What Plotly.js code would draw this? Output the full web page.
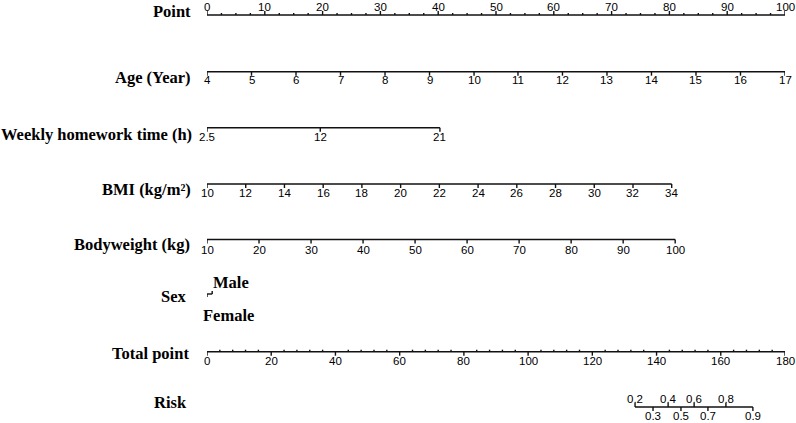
<!DOCTYPE html>
<html><head><meta charset="utf-8">
<script src="https://cdn.plot.ly/plotly-3.0.1.min.js"></script>
<style>html,body{margin:0;padding:0;background:#fff}#chart{width:796px;height:423px}</style>
</head><body><div id="chart"></div>
<script>
// ---------------- DATA ----------------
const rowNames = ['Point', 'Age (Year)', 'Weekly homework time (h)', 'BMI (kg/m²)', 'Bodyweight (kg)', 'Sex', 'Total point', 'Risk'];

const pointTickLabels = [0, 10, 20, 30, 40, 50, 60, 70, 80, 90, 100];

const ageLabels = [4, 5, 6, 7, 8, 9, 10, 11, 12, 13, 14, 15, 16, 17];
const agePoints = [0, 7.7, 15.4, 23.1, 30.8, 38.5, 46.2, 53.8, 61.5, 69.2, 76.9, 84.6, 92.3, 100];

const homeworkLabels = ['2.5', '12', '21'];
const homeworkPoints = [0, 19.6, 40.3];

const bmiLabels = [10, 12, 14, 16, 18, 20, 22, 24, 26, 28, 30, 32, 34];
const bmiPoints = [0, 6.7, 13.4, 20.1, 26.8, 33.5, 40.2, 46.9, 53.6, 60.3, 67.0, 73.7, 80.4];

const weightLabels = [10, 20, 30, 40, 50, 60, 70, 80, 90, 100];
const weightPoints = [0, 9, 18, 27, 36, 45, 54, 63, 72, 81];

const sexLabels = ['Female', 'Male'];
const sexPoints = [0, 0.9];

const totalTickLabels = [0, 20, 40, 60, 80, 100, 120, 140, 160, 180];
const totalMax = 180;

const riskLabels = ['0.2', '0.3', '0.4', '0.5', '0.6', '0.7', '0.8', '0.9'];
const riskTotalPoints = [133.3, 138.9, 143.6, 147.6, 151.7, 156.0, 161.6, 170.0];

// ---------------- LAYOUT CONFIG (pixel rows) ----------------
const rows = {
  point:   {line: 15,    label: 7.2,  name: 11},
  age:     {line: 71.7,  label: 80,   name: 77},
  hw:      {line: 127.7, label: 137,  name: 134.7},
  bmi:     {line: 184,   label: 193,  name: 189},
  weight:  {line: 239.5, label: 250,  name: 244},
  sex:     {line: 294,   labelUp: 282, labelDown: 315, name: 296.7},
  total:   {line: 351.7, label: 361,  name: 353.5},
  risk:    {line: 407,   labelUp: 398.5, labelDown: 415.5, name: 402.5}
};
const nameRight = [193, 193, 194, 193, 192, 189, 191, 189];
const plotLeft = 207, plotWidth = 578;
const lineColor = '#111';
const tickFont = {family: 'Liberation Sans, Arial, sans-serif', size: 11.5, color: '#000'};
const nameFont = {family: 'Liberation Serif, Times New Roman, serif', size: 16.5, color: '#000'};

const toPts = t => t * 100 / totalMax;   // total-point scale onto the point scale

function axisTrace(positions, y, ticks) {
  const xs = [positions[0], positions[positions.length - 1], null];
  const ys = [y, y, null];
  ticks.forEach(t => { xs.push(t.x, t.x, null); ys.push(y, y + t.dir * t.len, null); });
  return {x: xs, y: ys, type: 'scatter', mode: 'lines', cliponaxis: false, hoverinfo: 'skip',
          line: {color: lineColor, width: 1.4}, showlegend: false};
}

const traces = [];
const ann = [];

function tickLabels(xs, labels, y) {
  xs.forEach((x, i) => ann.push({x: x, y: y, xref: 'x', yref: 'y', text: String(labels[i]),
    showarrow: false, xanchor: 'center', yanchor: 'middle', font: tickFont}));
}

// Point axis (ticks up, labels above, minor every 2.5)
{
  const ticks = [];
  for (let v = 0; v <= 100 + 1e-9; v += 2.5) {
    const major = pointTickLabels.includes(v);
    ticks.push({x: v, dir: -1, len: major ? 4 : 2});
  }
  traces.push(axisTrace(pointTickLabels, rows.point.line, ticks));
  tickLabels(pointTickLabels, pointTickLabels, rows.point.label);
}

// Variable axes (ticks down, labels below)
[[agePoints, ageLabels, rows.age], [homeworkPoints, homeworkLabels, rows.hw],
 [bmiPoints, bmiLabels, rows.bmi], [weightPoints, weightLabels, rows.weight]].forEach(([p, l, r]) => {
  traces.push(axisTrace(p, r.line, p.map(x => ({x: x, dir: 1, len: 4}))));
  tickLabels(p, l, r.label);
});

// Sex
traces.push(axisTrace(sexPoints, rows.sex.line, [{x: sexPoints[0], dir: 1, len: 3}, {x: sexPoints[1], dir: -1, len: 3}]));
ann.push({x: sexPoints[0], y: rows.sex.labelDown, xref: 'x', yref: 'y', text: '<b>' + sexLabels[0] + '</b>',
  showarrow: false, xanchor: 'left', yanchor: 'middle', xshift: -6, font: nameFont});
ann.push({x: sexPoints[1], y: rows.sex.labelUp, xref: 'x', yref: 'y', text: '<b>' + sexLabels[1] + '</b>',
  showarrow: false, xanchor: 'left', yanchor: 'middle', xshift: -1, font: nameFont});

// Total point axis
{
  const ticks = [];
  for (let v = 0; v <= totalMax + 1e-9; v += 4) {
    if (totalTickLabels.includes(v)) continue;
    ticks.push({x: toPts(v), dir: -1, len: 2});
  }
  totalTickLabels.forEach(v => ticks.push({x: toPts(v), dir: 1, len: 4}));
  const xs = totalTickLabels.map(toPts);
  traces.push(axisTrace(xs, rows.total.line, ticks));
  tickLabels(xs, totalTickLabels, rows.total.label);
}

// Risk axis (alternating labels)
{
  const xs = riskTotalPoints.map(toPts);
  traces.push(axisTrace(xs, rows.risk.line, xs.map((x, i) => ({x: x, dir: i % 2 === 0 ? -1 : 1, len: 4}))));
  xs.forEach((x, i) => ann.push({x: x, y: i % 2 === 0 ? rows.risk.labelUp : rows.risk.labelDown,
    xref: 'x', yref: 'y', text: riskLabels[i], showarrow: false, xanchor: 'center', yanchor: 'middle', font: tickFont}));
}

// Row names
const nameRows = [rows.point, rows.age, rows.hw, rows.bmi, rows.weight, rows.sex, rows.total, rows.risk];
rowNames.forEach((n, i) => ann.push({x: (nameRight[i] - plotLeft) / plotWidth, xref: 'paper', y: nameRows[i].name, yref: 'y',
  text: '<b>' + n + '</b>', showarrow: false, xanchor: 'right', yanchor: 'middle', font: nameFont}));

const layout = {
  width: 796, height: 423,
  margin: {l: plotLeft, r: 796 - plotLeft - plotWidth, t: 0, b: 0, pad: 0},
  paper_bgcolor: '#fff', plot_bgcolor: '#fff',
  xaxis: {range: [0, 100], visible: false, showgrid: false, zeroline: false, fixedrange: true},
  yaxis: {range: [423, 0], visible: false, showgrid: false, zeroline: false, fixedrange: true},
  annotations: ann, showlegend: false
};
Plotly.newPlot('chart', traces, layout, {staticPlot: true, displayModeBar: false});
</script></body></html>
